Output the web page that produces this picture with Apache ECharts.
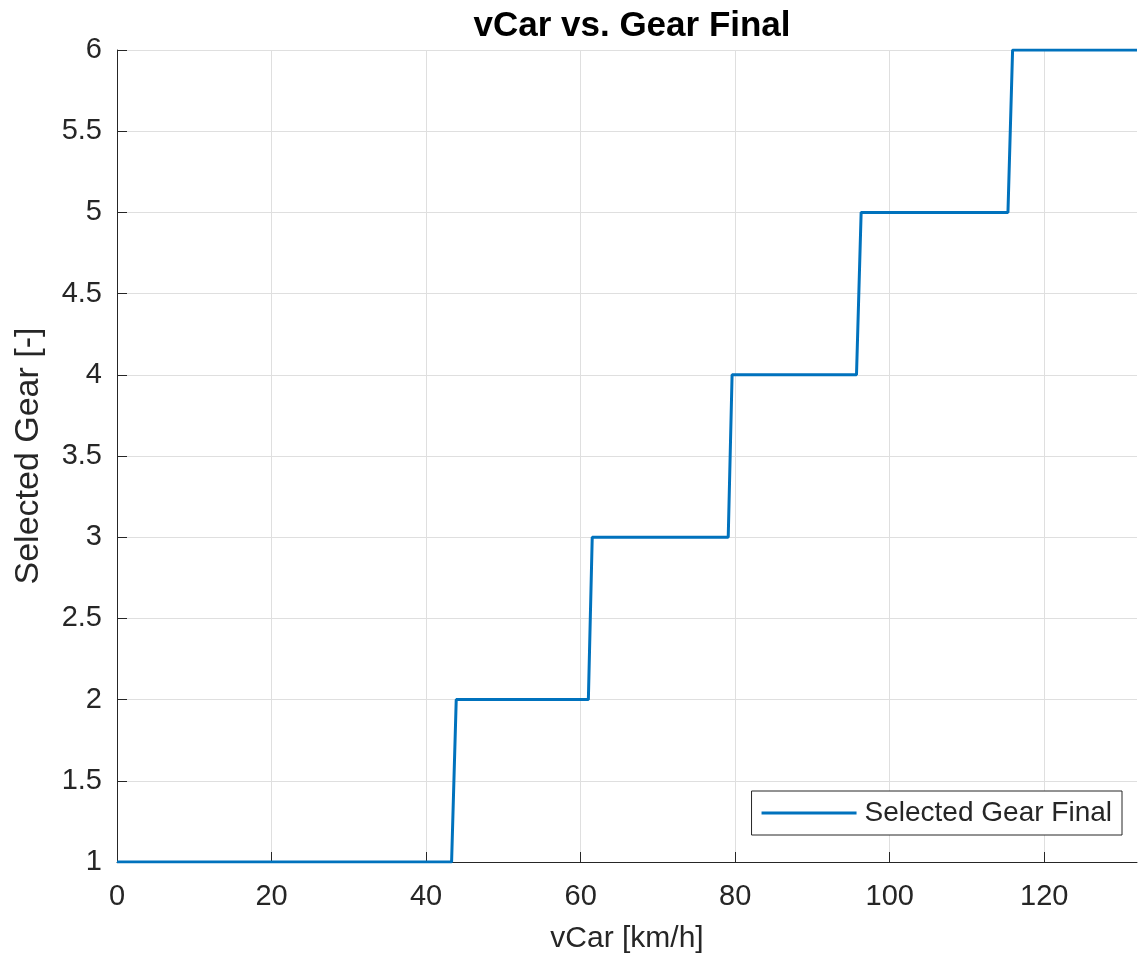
<!DOCTYPE html>
<html>
<head>
<meta charset="utf-8">
<title>vCar vs. Gear Final</title>
<script src="https://cdn.jsdelivr.net/npm/echarts@6/dist/echarts.min.js"></script>
<style>
    html, body { margin: 0; padding: 0; background: #fff; }
    #chart { width: 1138px; height: 961px; }
</style>
</head>
<body>
<div id="chart"></div>
<script>
// step points of the gear curve
const vCar = [0, 43.3, 43.9, 61.0, 61.5, 79.1, 79.6, 95.7, 96.3, 115.3, 115.9, 132]
const gear = [1, 1, 2, 2, 3, 3, 4, 4, 5, 5, 6, 6]

const xTicks = [0, 20, 40, 60, 80, 100, 120]
const yTicks = [1, 1.5, 2, 2.5, 3, 3.5, 4, 4.5, 5, 5.5, 6]

const axisColor = '#262626'
const gridColor = '#dfdfdf'
const font = 'Liberation Sans, Arial, Helvetica, sans-serif'

let chart = echarts.init(document.getElementById('chart'))

let option = {
    backgroundColor: '#fff',
    animation: false,
    title: {
        text: 'vCar vs. Gear Final',
        left: 627,
        top: 4,
        textAlign: 'center',
        textStyle: {
            color: '#000',
            fontSize: 35,
            fontWeight: 'bold',
            fontFamily: font
        }
    },
    grid: {
        left: 117,
        right: 1,
        top: 50,
        bottom: 99
    },
    legend: {
        right: 16,
        top: 791,
        padding: [8, 10, 8, 10],
        borderColor: axisColor,
        borderWidth: 1,
        backgroundColor: '#fff',
        icon: 'rect',
        itemWidth: 95,
        itemHeight: 3,
        textStyle: {
            color: axisColor,
            fontSize: 28,
            fontFamily: font,
            padding: [0, 0, 0, 3]
        },
        data: ['Selected Gear Final']
    },
    xAxis: {
        type: 'value',
        min: 0,
        max: 132,
        interval: 20,
        name: 'vCar [km/h]',
        nameLocation: 'middle',
        nameGap: 62,
        nameTextStyle: {
            color: axisColor,
            fontSize: 30,
            fontFamily: font
        },
        axisLine: { show: true, lineStyle: { color: axisColor, width: 1 } },
        axisTick: { show: true, inside: true, length: 10, customValues: xTicks, lineStyle: { color: axisColor } },
        axisLabel: {
            color: axisColor,
            fontSize: 29,
            fontFamily: font,
            margin: 20,
            customValues: xTicks
        },
        splitLine: { show: true, lineStyle: { color: gridColor, width: 1 } }
    },
    yAxis: {
        type: 'value',
        min: 1,
        max: 6,
        interval: 0.5,
        name: 'Selected Gear [-]',
        nameLocation: 'middle',
        nameGap: 71,
        nameTextStyle: {
            color: axisColor,
            fontSize: 34,
            fontFamily: font
        },
        axisLine: { show: true, lineStyle: { color: axisColor, width: 1 } },
        axisTick: { show: true, inside: true, length: 10, customValues: yTicks, lineStyle: { color: axisColor } },
        axisLabel: {
            color: axisColor,
            fontSize: 29,
            fontFamily: font,
            margin: 15,
            customValues: yTicks
        },
        splitLine: { show: true, lineStyle: { color: gridColor, width: 1 } }
    },
    series: [
        {
            name: 'Selected Gear Final',
            type: 'line',
            showSymbol: false,
            symbol: 'none',
            lineStyle: { color: '#0072BD', width: 3 },
            itemStyle: { color: '#0072BD' },
            data: vCar.map((v, i) => [v, gear[i]])
        }
    ]
}

chart.setOption(option, true)
</script>
</body>
</html>
